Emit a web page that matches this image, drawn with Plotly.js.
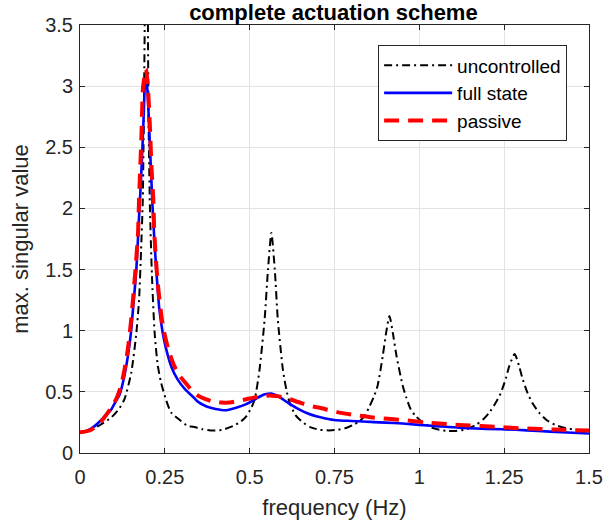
<!DOCTYPE html>
<html>
<head>
<meta charset="utf-8">
<script src="https://cdn.plot.ly/plotly-3.0.1.min.js"></script>
<style>html,body{margin:0;padding:0;background:#fff;}#chart{width:604px;height:527px;}</style>
</head>
<body>
<div id="chart"></div>
<script>
// frequency (Hz) and max. singular value
const uncF = [0,0.03,0.06,0.092,0.115,0.131,0.151,0.166,0.174,0.18,0.185,0.188,0.191,0.1955,0.2,0.202,0.206,0.212,0.22,0.229,0.239,0.254,0.269,0.294,0.318,0.333,0.36,0.392,0.42,0.451,0.475,0.49,0.505,0.515,0.529,0.544,0.554,0.564,0.574,0.583,0.598,0.608,0.618,0.635,0.657,0.68,0.706,0.735,0.76,0.784,0.805,0.824,0.84,0.853,0.866,0.877,0.892,0.902,0.912,0.922,0.933,0.951,0.962,0.975,0.99,1.01,1.035,1.059,1.085,1.108,1.14,1.167,1.19,1.206,1.225,1.24,1.255,1.265,1.281,1.294,1.305,1.319,1.335,1.353,1.375,1.4,1.43,1.46,1.5];
const uncV = [0.17,0.19,0.23,0.29,0.36,0.44,0.655,0.98,1.25,1.66,2.07,2.72,3.6,6.0,3.6,2.72,2.02,1.45,0.98,0.72,0.575,0.43,0.33,0.27,0.22,0.215,0.195,0.184,0.19,0.22,0.26,0.30,0.37,0.44,0.68,1.09,1.50,1.80,1.50,1.09,0.68,0.52,0.41,0.31,0.25,0.21,0.19,0.185,0.19,0.205,0.23,0.26,0.31,0.38,0.46,0.55,0.79,0.98,1.12,0.98,0.79,0.55,0.45,0.355,0.30,0.25,0.21,0.19,0.18,0.18,0.195,0.23,0.28,0.33,0.41,0.49,0.61,0.71,0.81,0.71,0.60,0.49,0.40,0.33,0.27,0.23,0.205,0.19,0.185];

const fullF = [0,0.02,0.043,0.07,0.092,0.105,0.117,0.13,0.141,0.15,0.156,0.166,0.174,0.18,0.184,0.188,0.191,0.1955,0.2,0.203,0.209,0.214,0.219,0.224,0.234,0.244,0.254,0.27,0.288,0.31,0.333,0.347,0.373,0.4,0.431,0.46,0.49,0.51,0.529,0.545,0.564,0.58,0.595,0.608,0.625,0.647,0.67,0.696,0.72,0.755,0.8,0.833,0.9,0.951,1.0,1.05,1.118,1.2,1.284,1.35,1.42,1.5];
const fullV = [0.17,0.18,0.22,0.29,0.355,0.42,0.48,0.62,0.79,0.98,1.17,1.5,1.93,2.25,2.5,2.78,3.0,3.08,2.9,2.72,2.32,2.0,1.75,1.53,1.17,0.98,0.85,0.70,0.60,0.52,0.46,0.42,0.38,0.36,0.35,0.37,0.40,0.43,0.46,0.48,0.486,0.47,0.445,0.42,0.39,0.355,0.325,0.30,0.285,0.268,0.262,0.257,0.248,0.241,0.23,0.22,0.206,0.197,0.19,0.18,0.17,0.16];

const pasF = [0,0.015,0.033,0.06,0.092,0.108,0.121,0.131,0.141,0.149,0.156,0.164,0.171,0.174,0.181,0.186,0.1945,0.201,0.206,0.211,0.216,0.219,0.229,0.244,0.26,0.278,0.294,0.318,0.333,0.347,0.37,0.392,0.415,0.441,0.465,0.49,0.515,0.539,0.56,0.578,0.6,0.618,0.65,0.686,0.706,0.735,0.765,0.81,0.863,0.951,1.02,1.098,1.132,1.225,1.314,1.4,1.5];
const pasV = [0.17,0.175,0.19,0.25,0.37,0.45,0.55,0.68,0.85,1.04,1.25,1.52,1.80,2.07,2.59,3.0,3.14,2.95,2.67,2.32,2.07,1.80,1.39,1.04,0.85,0.71,0.63,0.55,0.50,0.47,0.44,0.42,0.413,0.413,0.425,0.44,0.455,0.465,0.47,0.465,0.455,0.44,0.41,0.38,0.37,0.35,0.33,0.31,0.29,0.27,0.25,0.233,0.227,0.214,0.20,0.192,0.183];

const seriesNames = ['uncontrolled','full state','passive'];
const xTickVals = [0,0.25,0.5,0.75,1,1.25,1.5];
const xTickText = ['0','0.25','0.5','0.75','1','1.25','1.5'];
const yTickVals = [0,0.5,1,1.5,2,2.5,3,3.5];
const yTickText = ['0','0.5','1','1.5','2','2.5','3','3.5'];

const FONT = 'Liberation Sans, Arial, Helvetica, sans-serif';
const AX = '#262626';

const traces = [
  {x: uncF, y: uncV, name: seriesNames[0], mode: 'lines', legendgroup: 'a',
   line: {color: '#000000', width: 2, dash: '8px,4px,2px,4px', shape: 'spline', smoothing: 0.6}},
  {x: fullF, y: fullV, name: seriesNames[1], mode: 'lines', legendgroup: 'b',
   line: {color: '#0000ff', width: 2.6, shape: 'spline', smoothing: 0.6}},
  {x: pasF, y: pasV, name: seriesNames[2], mode: 'lines', legendgroup: 'c',
   line: {color: '#ff0000', width: 4, dash: '15px,9px', shape: 'spline', smoothing: 0.6}}
];

const axisCommon = {
  showline: true, linecolor: AX, linewidth: 1, mirror: 'ticks',
  ticks: 'inside', ticklen: 5, tickcolor: AX, tickwidth: 1,
  showgrid: true, gridcolor: '#e3e3e3', gridwidth: 1,
  zeroline: false, tickfont: {family: FONT, size: 20, color: AX},
  fixedrange: true
};

const layout = {
  width: 604, height: 527,
  margin: {l: 80, r: 14.5, t: 25, b: 74, pad: 0},
  paper_bgcolor: '#ffffff', plot_bgcolor: '#ffffff',
  font: {family: FONT, color: AX},
  title: {text: '<b>complete actuation scheme</b>', font: {family: FONT, size: 22, color: '#000000'},
          x: 0.552, xanchor: 'center', xref: 'container', y: 1 - 12/527, yanchor: 'middle', yref: 'container'},
  xaxis: Object.assign({}, axisCommon, {range: [0, 1.5], tickvals: xTickVals, ticktext: xTickText,
          ticklabelstandoff: 6,
          title: {text: 'frequency (Hz)', font: {family: FONT, size: 22, color: AX}, standoff: 12}}),
  yaxis: Object.assign({}, axisCommon, {range: [0, 3.5], tickvals: yTickVals, ticktext: yTickText,
          ticklabelstandoff: 2,
          title: {text: 'max. singular value', font: {family: FONT, size: 22, color: AX}, standoff: 10}}),
  showlegend: true,
  legend: {x: 0.957, xanchor: 'right', y: 0.9526, yanchor: 'top', bgcolor: '#ffffff',
           bordercolor: AX, borderwidth: 1, font: {family: FONT, size: 19, color: '#000000'},
           itemwidth: 68, tracegroupgap: 0, traceorder: 'grouped'}
};

Plotly.newPlot('chart', traces, layout, {displayModeBar: false, staticPlot: true});
</script>
</body>
</html>
